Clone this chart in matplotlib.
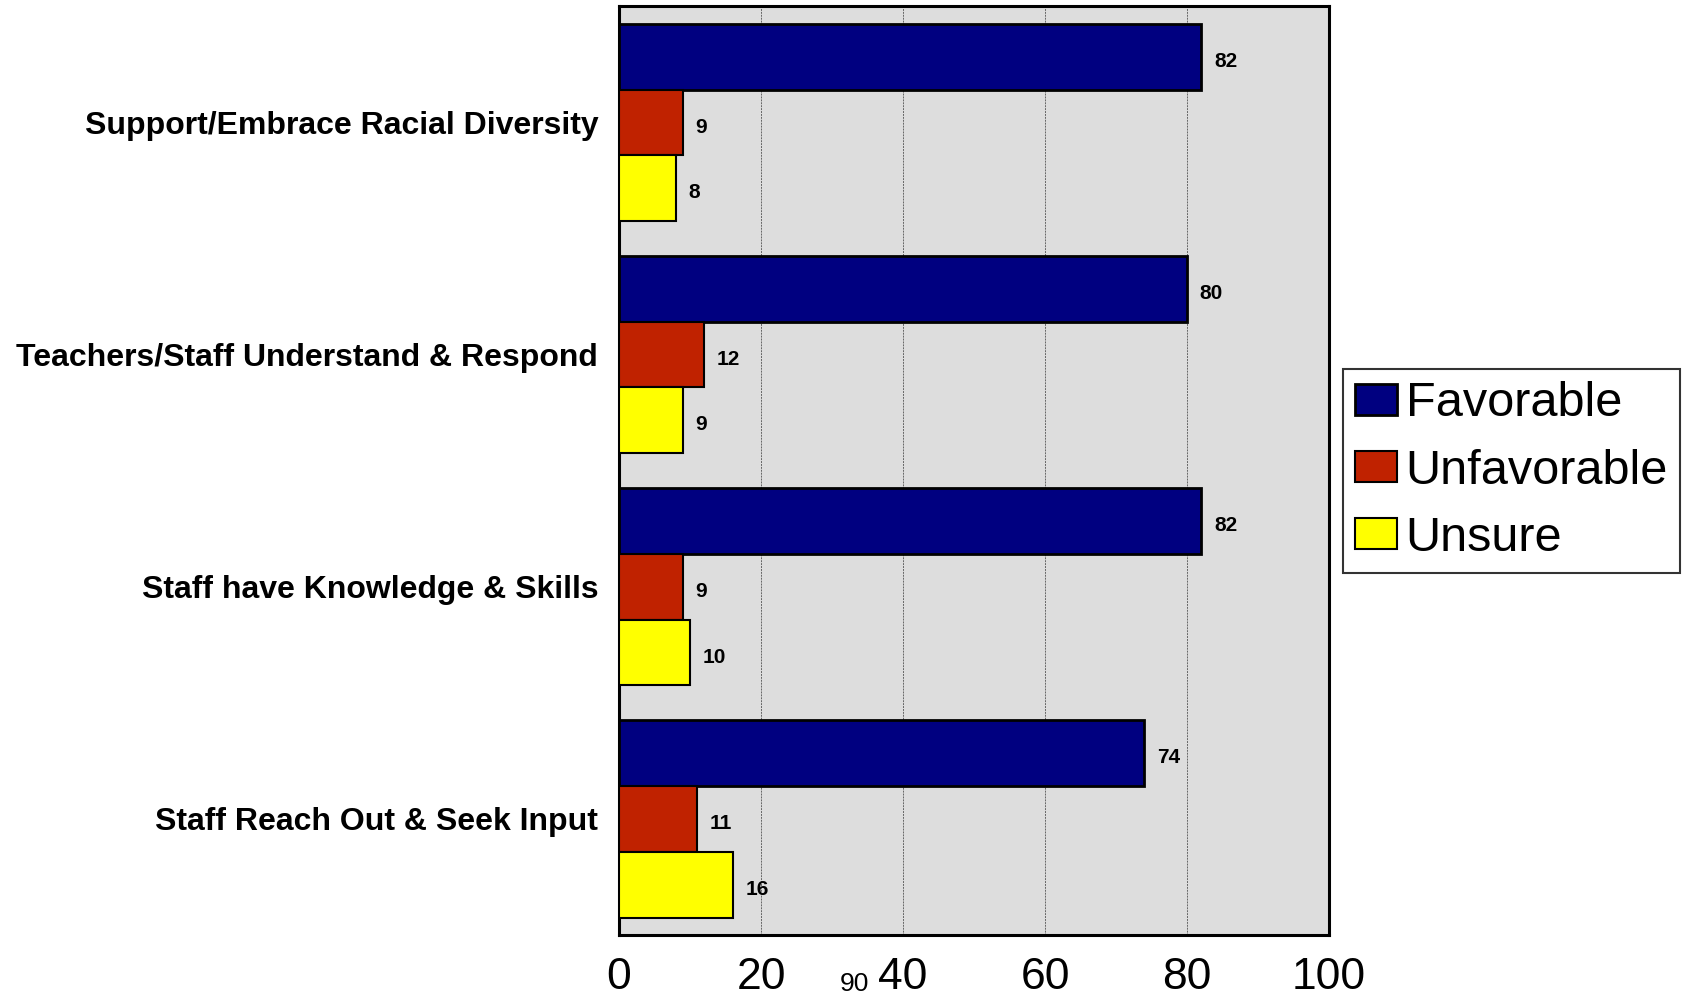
import numpy as np
import matplotlib.pyplot as plt
import matplotlib.transforms as mtransforms

# survey items, top to bottom
categories = [
    "Support/Embrace Racial Diversity",
    "Teachers/Staff Understand & Respond",
    "Staff have Knowledge & Skills",
    "Staff Reach Out & Seek Input",
]
favorable = [82, 80, 82, 74]
unfavorable = [9, 12, 9, 11]
unsure = [8, 9, 10, 16]
series_names = ["Favorable", "Unfavorable", "Unsure"]
series_colors = ["#000080", "#C02200", "#FFFF00"]
xticks = [0, 20, 40, 60, 80, 100]

plt.rcParams["font.family"] = ["Liberation Sans", "DejaVu Sans"]

fig = plt.figure(figsize=(16.84, 9.96), dpi=100)
ax = fig.add_axes([0.3676, 0.0612, 0.4216, 0.9324])
ax.set_facecolor("#DDDDDD")

n = len(categories)
bar_h = 0.283
ypos = np.arange(n)
handles = []
for k, (vals, name, col) in enumerate(zip([favorable, unfavorable, unsure],
                                           series_names, series_colors)):
    y = ypos + (k - 1) * bar_h
    lw = 2.0 if k == 0 else 1.5
    bars = ax.barh(y, vals, height=bar_h, color=col, edgecolor="black",
                   linewidth=lw, label=name, zorder=3)
    handles.append(bars)
    for yy, v in zip(y, vals):
        ax.text(v + 1.8, yy + 0.02, str(v), va="center", ha="left",
                fontsize=15, fontweight="bold", zorder=4)

ax.set_ylim(n - 0.5, -0.5)
ax.set_xlim(0, 100)
ax.set_yticks(ypos)
ax.set_yticklabels(categories, fontsize=23, fontweight="bold")
ax.set_xticks(xticks)
ax.set_xticklabels([str(t) for t in xticks], fontsize=32)
ax.tick_params(axis="both", length=0)
ax.tick_params(axis="x", pad=16)
ax.tick_params(axis="y", pad=15)
ax.grid(axis="x", color="#666666", linestyle=(0, (2, 1)), linewidth=0.7,
        zorder=1)
for s in ax.spines.values():
    s.set_linewidth(2.2)
    s.set_color("black")

# stray label sitting between the 20 and 40 ticks
trans = mtransforms.blended_transform_factory(ax.transData, fig.transFigure)
ax.text(33.2, 0.005, "90", transform=trans, ha="center", va="baseline",
        fontsize=19)

leg = fig.legend(handles=handles, loc="center left",
                 bbox_to_anchor=(0.7975, 0.527), fontsize=35,
                 frameon=True, fancybox=False, edgecolor="black",
                 handlelength=0.86, handleheight=0.6, handletextpad=0.18,
                 labelspacing=0.46, borderpad=0.25, borderaxespad=0)
leg.get_frame().set_linewidth(1.5)

fig.savefig("out.png", dpi=100)
